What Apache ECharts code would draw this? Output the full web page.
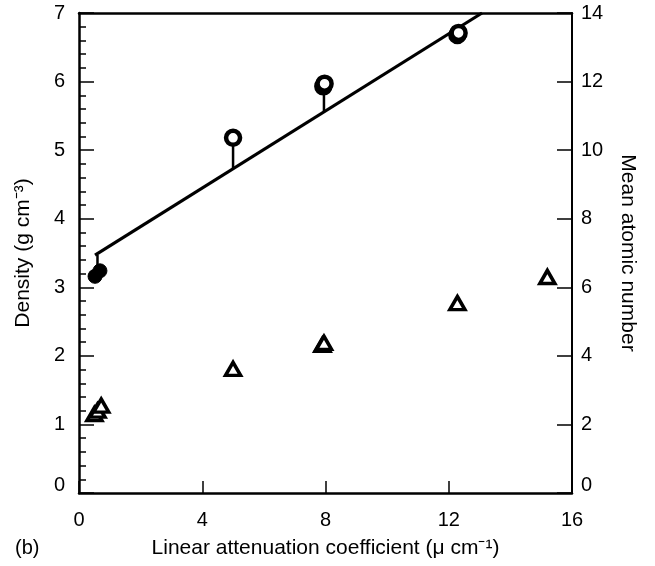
<!DOCTYPE html>
<html>
<head>
<meta charset="utf-8">
<script src="https://cdn.jsdelivr.net/npm/echarts@6/dist/echarts.min.js"></script>
<style>html,body{margin:0;padding:0;background:#fff}#c{width:655px;height:566px}</style>
</head>
<body>
<div id="c"></div>
<script>
// Density (left axis, circles) vs linear attenuation coefficient
const circleX = [0.52, 0.68, 5.0, 7.93, 7.97, 12.28, 12.32];
const circleDensity = [3.16, 3.24, 5.18, 5.93, 5.97, 6.68, 6.71];
const circleFilled = [true, true, false, false, false, false, false];
// Fitted line endpoints
const fitX = [0.52, 13.08];
const fitY = [3.47, 7.0];
// Residual drop lines: x, circle value, line value
const dropX = [0.6, 5.0, 7.95];
const dropFrom = [3.47, 5.18, 5.95];
const dropTo = [3.22, 4.73, 5.57];
// Mean atomic number (right axis, triangles)
const triX = [0.5, 0.6, 0.72, 5.0, 7.9, 7.95, 12.28, 15.2];
const triZ = [2.3, 2.4, 2.55, 3.62, 4.32, 4.38, 5.54, 6.3];
// Ticks
const xTicks = {min: 0, max: 16, interval: 4};
const yLeftTicks = {min: 0, max: 7, interval: 1};
const yRightTicks = {min: 0, max: 14, interval: 2};

const FONT = "'Liberation Sans', Arial, sans-serif";
const chart = echarts.init(document.getElementById('c'), null, {renderer: 'canvas'});

const series = [];
series.push({
  type: 'line', xAxisIndex: 0, yAxisIndex: 0,
  data: fitX.map((x, i) => [x, fitY[i]]),
  symbol: 'none', lineStyle: {color: '#000', width: 3.2}, z: 3, silent: true
});
dropX.forEach((x, i) => {
  series.push({
    type: 'line', xAxisIndex: 0, yAxisIndex: 0,
    data: [[x, dropFrom[i]], [x, dropTo[i]]],
    symbol: 'none', lineStyle: {color: '#000', width: 2.5}, z: 3, silent: true
  });
});
series.push({
  type: 'scatter', xAxisIndex: 0, yAxisIndex: 0,
  data: circleX.map((x, i) => ({
    value: [x, circleDensity[i]],
    itemStyle: circleFilled[i]
      ? {color: '#000', borderColor: '#000', borderWidth: 1, opacity: 1}
      : {color: '#fff', borderColor: '#000', borderWidth: 4.5, opacity: 1}
  })),
  symbol: 'circle', symbolSize: 14, z: 5
});
series.push({
  type: 'scatter', xAxisIndex: 0, yAxisIndex: 1,
  data: triX.map((x, i) => [x, triZ[i]]),
  symbol: 'triangle', symbolSize: [15, 13],
  itemStyle: {color: '#fff', borderColor: '#000', borderWidth: 3.5, opacity: 1}, z: 5
});

const zeroUp = (v, txt) => (v === 0 ? '{z|' + txt + '}' : txt);

chart.setOption({
  backgroundColor: '#fff',
  animation: false,
  grid: {left: 79, right: 83, top: 13, bottom: 73, containLabel: false},
  xAxis: [{
    type: 'value', position: 'bottom', ...xTicks,
    axisLine: {show: true, onZero: false, lineStyle: {color: '#000', width: 2.5}},
    axisTick: {show: true, inside: true, length: 12, lineStyle: {color: '#000', width: 1.5}},
    axisLabel: {color: '#000', fontFamily: FONT, fontSize: 20, margin: 17},
    splitLine: {show: false},
    name: 'Linear attenuation coefficient (\u03bc cm\u207b\u00b9)',
    nameLocation: 'middle', nameGap: 45,
    nameTextStyle: {color: '#000', fontFamily: FONT, fontSize: 21}
  }, {
    type: 'value', position: 'top', ...xTicks,
    axisLine: {show: true, onZero: false, lineStyle: {color: '#000', width: 2.5}},
    axisTick: {show: false}, axisLabel: {show: false}, splitLine: {show: false}
  }],
  yAxis: [{
    type: 'value', position: 'left', ...yLeftTicks,
    axisLine: {show: true, onZero: false, lineStyle: {color: '#000', width: 2.5}},
    axisTick: {show: true, inside: true, length: 15, lineStyle: {color: '#000', width: 1.5}},
    minorTick: {show: true, splitNumber: 5, length: 7, lineStyle: {color: '#000', width: 1.5}},
    axisLabel: {color: '#000', fontFamily: FONT, fontSize: 20, margin: 14,
      formatter: v => zeroUp(v, String(v)),
      rich: {z: {fontFamily: FONT, fontSize: 20, color: '#000', padding: [0, 0, 15, 0]}}},
    splitLine: {show: false},
    name: 'Density (g cm\u207b\u00b3)', nameLocation: 'middle', nameGap: 45, nameRotate: 90,
    nameTextStyle: {color: '#000', fontFamily: FONT, fontSize: 21}
  }, {
    type: 'value', position: 'right', ...yRightTicks,
    axisLine: {show: true, onZero: false, lineStyle: {color: '#000', width: 2}},
    axisTick: {show: true, inside: true, length: 15, lineStyle: {color: '#000', width: 1.5}},
    axisLabel: {color: '#000', fontFamily: FONT, fontSize: 20, margin: 9,
      formatter: v => zeroUp(v, String(v)),
      rich: {z: {fontFamily: FONT, fontSize: 20, color: '#000', padding: [0, 0, 15, 0]}}},
    splitLine: {show: false},
    name: 'Mean atomic number', nameLocation: 'middle', nameGap: 45, nameRotate: -90,
    nameTextStyle: {color: '#000', fontFamily: FONT, fontSize: 21}
  }],
  graphic: [{
    type: 'text', left: 15, top: 538,
    style: {text: '(b)', fontFamily: FONT, fontSize: 20, fill: '#000'}
  }],
  series: series
});
</script>
</body>
</html>
